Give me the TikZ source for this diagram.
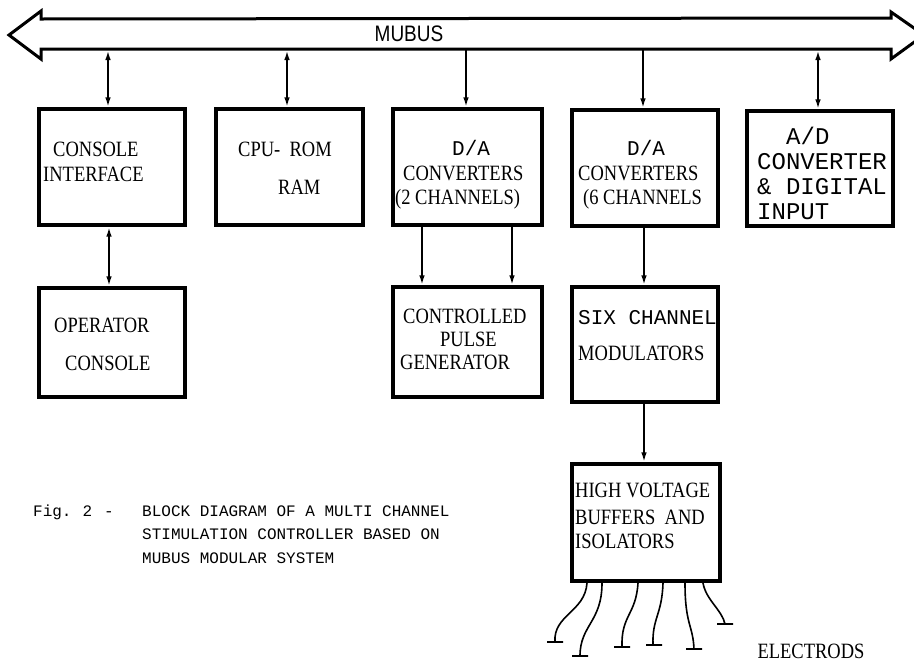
\documentclass[tikz,border=0pt]{standalone}
\usepackage{fontspec}
\setmainfont{Liberation Serif}
\newfontfamily\monof{Liberation Mono}
\newfontfamily\sansf{Liberation Sans}
\usetikzlibrary{arrows.meta}
\newcommand{\tallt}[1]{\scalebox{1}[1.18]{#1}}
\begin{document}
\begin{tikzpicture}[x=1pt,y=-1pt,
  blk/.style={draw, line width=3.1pt, inner sep=0pt},
  st/.style={anchor=base west, inner sep=0pt, font=\fontsize{18.5}{20}\selectfont},
  mt/.style={anchor=base west, inner sep=0pt, font=\monof\fontsize{21}{22}\selectfont},
  mtb/.style={anchor=base west, inner sep=0pt, font=\monof\fontsize{24}{26}\selectfont},
  captxt/.style={anchor=base west, inner sep=0pt, font=\monof\fontsize{16}{18}\selectfont},
  conn/.style={line width=2.1pt},
  arrdown/.style={conn, -{Latex[length=10pt,width=5.5pt]}},
  arrboth/.style={conn, {Latex[length=10pt,width=5.5pt]}-{Latex[length=10pt,width=5.5pt]}},
  wire/.style={line width=1.6pt}]
\useasboundingbox (0,0) rectangle (914,662);
\clip (0,0) rectangle (914,662);
% bus
\draw[line width=3pt, line join=miter]
  (9,35) -- (41,11) -- (41,19) -- (891,18) -- (891,12) -- (924,35)
  -- (891,59) -- (891,49) -- (41,49) -- (41,59) -- cycle;
\node[font=\sansf\fontsize{19}{20}\selectfont, inner sep=0pt] (mubus) at (409,34) {\tallt{MUBUS}};
% blocks
\node[blk, minimum width=146pt, minimum height=116pt] (ci)  at (112,167) {};
\node[blk, minimum width=147pt, minimum height=116pt] (cpu) at (289.5,167) {};
\node[blk, minimum width=149pt, minimum height=116pt] (da2) at (467.5,167) {};
\node[blk, minimum width=146pt, minimum height=116pt] (da6) at (645,168) {};
\node[blk, minimum width=146pt, minimum height=115pt] (ad)  at (820,168.5) {};
\node[blk, minimum width=146pt, minimum height=109pt] (oc)  at (112,342.5) {};
\node[blk, minimum width=149pt, minimum height=110pt] (cpg) at (467.5,342) {};
\node[blk, minimum width=146pt, minimum height=115pt] (six) at (645,344.5) {};
\node[blk, minimum width=148pt, minimum height=117pt] (hv)  at (646,522.5) {};
% texts
\node[st] (t1) at (53,156) {\tallt{CONSOLE}};
\node[st] (t2) at (43,181) {\tallt{INTERFACE}};
\node[st] (t3) at (238,156) {\tallt{CPU-\ \ ROM}};
\node[st] (t4) at (278,194) {\tallt{RAM}};
\node[mt] (t5) at (452,155) {D/A};
\node[st] (t6) at (403,180) {\tallt{CONVERTERS}};
\node[st] (t7) at (395,204) {\tallt{(2 CHANNELS)}};
\node[mt] (t8) at (627,155) {D/A};
\node[st] (t9) at (578,180) {\tallt{CONVERTERS}};
\node[st] (t10) at (583,204) {\tallt{(6 CHANNELS}};
\node[mtb] (t11) at (786,144.5) {A/D};
\node[mtb] (t12) at (757,169.5) {CONVERTER};
\node[mtb] (t13) at (757,194.5) {\& DIGITAL};
\node[mtb] (t14) at (757,219.5) {INPUT};
\node[st] (t15) at (54,332) {\tallt{OPERATOR}};
\node[st] (t16) at (65,370) {\tallt{CONSOLE}};
\node[st] (t17) at (403,323) {\tallt{CONTROLLED}};
\node[st] (t18) at (440,346) {\tallt{PULSE}};
\node[st] (t19) at (400,369) {\tallt{GENERATOR}};
\node[mt] (t20) at (578,324) {SIX CHANNEL};
\node[st] (t21) at (578,360) {\tallt{MODULATORS}};
\node[st] (t22) at (575,497) {\tallt{HIGH VOLTAGE}};
\node[st] (t23) at (575,524) {\tallt{BUFFERS\ \ AND}};
\node[st] (t24) at (575,548) {\tallt{ISOLATORS}};
\node[captxt] (c0) at (33,516) {Fig.\hspace{11pt}2\hspace{12pt}-};
\node[captxt] (c1) at (142,516) {BLOCK DIAGRAM OF A MULTI CHANNEL};
\node[captxt] (c2) at (142,539) {STIMULATION CONTROLLER BASED ON};
\node[captxt] (c3) at (142,563) {MUBUS MODULAR SYSTEM};
\node[font=\fontsize{18.5}{20}\selectfont, inner sep=0pt] (el) at (811,651) {\tallt{ELECTRODS}};
% bus connectors
\coordinate (b1) at (108,50);
\coordinate (b2) at (287,50);
\coordinate (b3) at (466,50);
\coordinate (b4) at (643,50);
\coordinate (b5) at (818,50);
\draw[arrboth] (b1) -- (ci.north -| b1);
\draw[arrboth] (b2) -- (cpu.north -| b2);
\draw[arrdown] (b3) -- (da2.north -| b3);
\draw[arrdown] (b4) -- (da6.north -| b4);
\draw[arrboth] (b5) -- (ad.north -| b5);
% second row connectors
\coordinate (x1) at (109,0);
\coordinate (x2) at (422,0);
\coordinate (x3) at (512,0);
\coordinate (x4) at (644,0);
\draw[arrboth] (x1 |- ci.south) -- (x1 |- oc.north);
\draw[arrdown] (x2 |- da2.south) -- (x2 |- cpg.north);
\draw[arrdown] (x3 |- da2.south) -- (x3 |- cpg.north);
\draw[arrdown] (x4 |- da6.south) -- (x4 |- six.north);
\draw[arrdown] (x4 |- six.south) -- (x4 |- hv.north);
% electrode wires
\draw[wire] (587,583) .. controls (585,612) and (553,615) .. (555,642) (547,642) -- (563,642);
\draw[wire] (602,583) .. controls (602,622) and (580,625) .. (580,656) (572,656) -- (588,656);
\draw[wire] (638,583) .. controls (636,615) and (621,615) .. (622,647) (614,647) -- (630,647);
\draw[wire] (663,583) .. controls (662,615) and (652,618) .. (653,645) (646,645) -- (662,645);
\draw[wire] (685,583) .. controls (685,625) and (693,625) .. (694,649) (686,649) -- (702,649);
\draw[wire] (703,583) .. controls (706,600) and (722,610) .. (725,624) (717,624) -- (733,624);
\end{tikzpicture}
\end{document}
